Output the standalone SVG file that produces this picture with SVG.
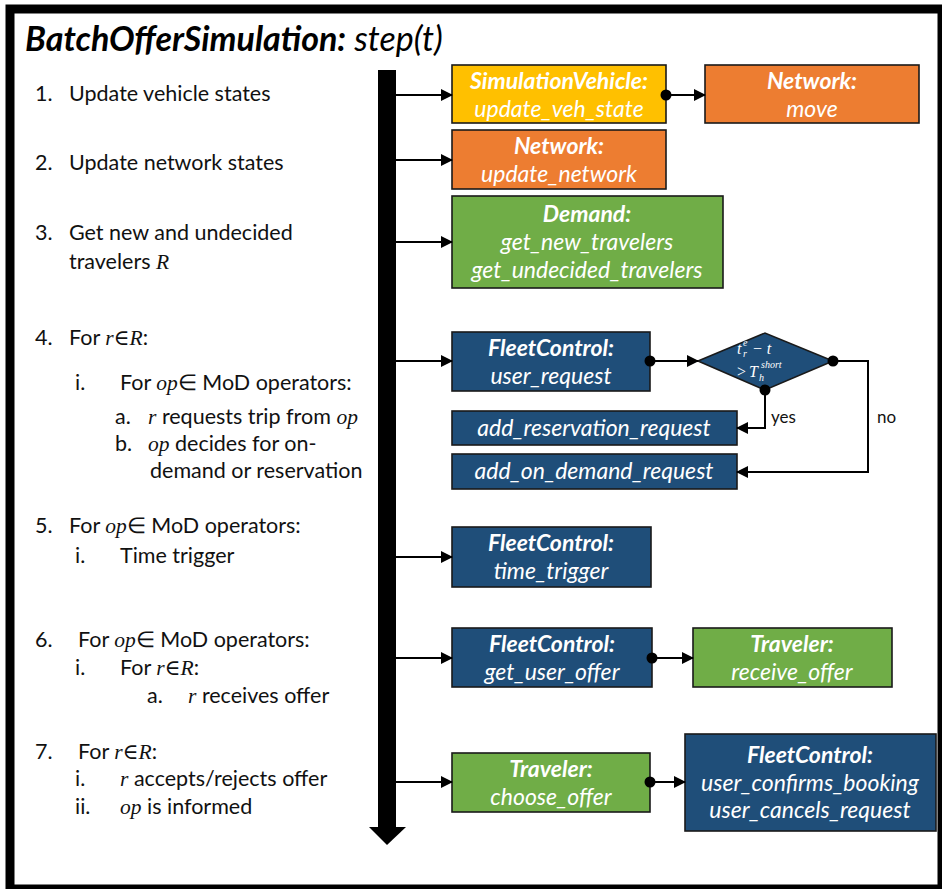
<svg xmlns="http://www.w3.org/2000/svg" width="942" height="889" viewBox="0 0 942 889">
<defs>
<marker id="ah" markerWidth="12" markerHeight="12" refX="11" refY="6" orient="auto" markerUnits="userSpaceOnUse">
<path d="M0,0 L12,6 L0,12 z" fill="#000"/>
</marker>
<marker id="dot" markerWidth="12" markerHeight="12" refX="6" refY="6" markerUnits="userSpaceOnUse">
<circle cx="6" cy="6" r="5.5" fill="#000"/>
</marker>
<style>
.t{font-family:Lato,"Liberation Sans",sans-serif;font-size:21.5px;fill:#111}
.m{font-family:"Liberation Serif","DejaVu Serif",serif;font-style:italic}
.bx{stroke:#1a1a1a;stroke-width:1.6}
.y{fill:#FFC000}.o{fill:#ED7D31}.g{fill:#70AD47}.b{fill:#1F4E79}
.h{font-family:Lato,"Liberation Sans",sans-serif;font-size:23px;font-weight:bold;font-style:italic;fill:#fff;text-anchor:middle}
.f{font-family:Lato,"Liberation Sans",sans-serif;font-size:23px;font-style:italic;fill:#fff;text-anchor:middle}
.c{stroke:#000;stroke-width:2;fill:none}
.ca{stroke:#000;stroke-width:2;fill:none;marker-end:url(#ah)}
.cd{stroke:#000;stroke-width:2;fill:none;marker-start:url(#dot);marker-end:url(#ah)}
.lbl{font-family:Lato,"Liberation Sans",sans-serif;font-size:17px;fill:#111}
.dm{font-family:"Liberation Serif","DejaVu Serif",serif;font-style:italic;font-size:16px;fill:#fff}
.ds{font-family:"Liberation Serif","DejaVu Serif",serif;font-style:italic;font-size:10px;fill:#fff}
</style>
</defs>
<rect x="0" y="0" width="942" height="889" fill="#fff"/>
<rect x="10" y="9" width="932" height="880" fill="none" stroke="#000" stroke-width="9"/>
<text x="25" y="51" font-family="Lato,'Liberation Sans',sans-serif" font-size="34" font-style="italic" fill="#000"><tspan font-weight="bold">BatchOfferSimulation:</tspan> step(t)</text>

<g id="timeline">
<rect x="378" y="70" width="18" height="758" fill="#000"/>
<polygon points="369,827 406,827 387,845" fill="#000"/>
</g>

<g id="steps">
<text class="t" x="35" y="101">1.</text><text class="t" x="69" y="101">Update vehicle states</text>
<text class="t" x="35" y="170">2.</text><text class="t" x="69" y="170">Update network states</text>
<text class="t" x="35" y="240">3.</text><text class="t" x="69" y="240">Get new and undecided</text>
<text class="t" x="69" y="269">travelers <tspan class="m">R</tspan></text>
<text class="t" x="35" y="345">4.</text><text class="t" x="69" y="345">For <tspan class="m">r</tspan><tspan class="m" font-style="normal">∈</tspan><tspan class="m">R</tspan>:</text>
<text class="t" x="75" y="390">i.</text><text class="t" x="120" y="390">For <tspan class="m">op</tspan>∈ MoD operators:</text>
<text class="t" x="115" y="424">a.</text><text class="t" x="148" y="424"><tspan class="m">r</tspan> requests trip from <tspan class="m">op</tspan></text>
<text class="t" x="115" y="451">b.</text><text class="t" x="148" y="451"><tspan class="m">op</tspan> decides for on-</text>
<text class="t" x="150" y="478">demand or reservation</text>
<text class="t" x="35" y="533">5.</text><text class="t" x="69" y="533">For <tspan class="m">op</tspan>∈ MoD operators:</text>
<text class="t" x="75" y="563">i.</text><text class="t" x="120" y="563">Time trigger</text>
<text class="t" x="35" y="647">6.</text><text class="t" x="78" y="647">For <tspan class="m">op</tspan>∈ MoD operators:</text>
<text class="t" x="75" y="675">i.</text><text class="t" x="120" y="675">For <tspan class="m">r</tspan><tspan class="m" font-style="normal">∈</tspan><tspan class="m">R</tspan>:</text>
<text class="t" x="147" y="703">a.</text><text class="t" x="188" y="703"><tspan class="m">r</tspan> receives offer</text>
<text class="t" x="35" y="759">7.</text><text class="t" x="78" y="759">For <tspan class="m">r</tspan><tspan class="m" font-style="normal">∈</tspan><tspan class="m">R</tspan>:</text>
<text class="t" x="75" y="786">i.</text><text class="t" x="120" y="786"><tspan class="m">r</tspan> accepts/rejects offer</text>
<text class="t" x="75" y="814">ii.</text><text class="t" x="120" y="814"><tspan class="m">op</tspan> is informed</text>
</g>

<g id="simvehicle">
<rect class="bx y" x="452" y="65" width="214" height="58"/>
<text class="h" x="559" y="89">SimulationVehicle:</text>
<text class="f" x="559" y="117">update_veh_state</text>
</g>
<g id="network-move">
<rect class="bx o" x="705" y="65" width="214" height="58"/>
<text class="h" x="812" y="89">Network:</text>
<text class="f" x="812" y="117">move</text>
</g>
<g id="network-update">
<rect class="bx o" x="452" y="130" width="214" height="59"/>
<text class="h" x="559" y="154">Network:</text>
<text class="f" x="559" y="182">update_network</text>
</g>
<g id="demand">
<rect class="bx g" x="452" y="196" width="271" height="92"/>
<text class="h" x="587" y="222">Demand:</text>
<text class="f" x="587" y="250">get_new_travelers</text>
<text class="f" x="587" y="278">get_undecided_travelers</text>
</g>
<g id="user-request">
<rect class="bx b" x="452" y="332" width="198" height="59"/>
<text class="h" x="551" y="356">FleetControl:</text>
<text class="f" x="551" y="384">user_request</text>
</g>
<g id="decision">
<polygon class="bx b" points="698,361 765,333 833,361 765,390"/>
<text class="dm" x="737" y="354">t</text>
<text class="ds" x="743" y="357">r</text>
<text class="ds" x="743" y="346">e</text>
<text class="dm" x="752" y="354">− t</text>
<text class="dm" x="736" y="377" font-style="normal">&gt;</text>
<text class="dm" x="749" y="377">T</text>
<text class="ds" x="759" y="381">h</text>
<text class="ds" x="761" y="368">short</text>
</g>
<g id="add-reservation">
<rect class="bx b" x="452" y="411" width="285" height="34"/>
<text class="f" x="594" y="436">add_reservation_request</text>
</g>
<g id="add-on-demand">
<rect class="bx b" x="452" y="454" width="285" height="35"/>
<text class="f" x="594" y="479">add_on_demand_request</text>
</g>
<g id="time-trigger">
<rect class="bx b" x="452" y="527" width="199" height="60"/>
<text class="h" x="551" y="551">FleetControl:</text>
<text class="f" x="551" y="579">time_trigger</text>
</g>
<g id="get-user-offer">
<rect class="bx b" x="452" y="628" width="200" height="59"/>
<text class="h" x="552" y="652">FleetControl:</text>
<text class="f" x="552" y="680">get_user_offer</text>
</g>
<g id="receive-offer">
<rect class="bx g" x="693" y="628" width="199" height="59"/>
<text class="h" x="792" y="652">Traveler:</text>
<text class="f" x="792" y="680">receive_offer</text>
</g>
<g id="choose-offer">
<rect class="bx g" x="452" y="753" width="198" height="59"/>
<text class="h" x="551" y="777">Traveler:</text>
<text class="f" x="551" y="805">choose_offer</text>
</g>
<g id="confirm">
<rect class="bx b" x="685" y="734" width="251" height="97"/>
<text class="h" x="810" y="763">FleetControl:</text>
<text class="f" x="810" y="791">user_confirms_booking</text>
<text class="f" x="810" y="818">user_cancels_request</text>
</g>

<g id="connectors">
<line class="ca" x1="396" y1="95" x2="452" y2="95"/>
<line class="ca" x1="396" y1="160" x2="452" y2="160"/>
<line class="ca" x1="396" y1="242" x2="452" y2="242"/>
<line class="ca" x1="396" y1="361" x2="452" y2="361"/>
<line class="ca" x1="396" y1="557" x2="452" y2="557"/>
<line class="ca" x1="396" y1="658" x2="452" y2="658"/>
<line class="ca" x1="396" y1="782" x2="452" y2="782"/>
<line class="cd" x1="666" y1="95" x2="705" y2="95"/>
<line class="cd" x1="650" y1="361" x2="698" y2="361"/>
<polyline class="cd" points="765,390 765,428 737,428"/>
<polyline class="cd" points="833,361 868,361 868,472 737,472"/>
<line class="cd" x1="652" y1="658" x2="693" y2="658"/>
<line class="cd" x1="650" y1="782" x2="685" y2="782"/>
<text class="lbl" x="771" y="423">yes</text>
<text class="lbl" x="877" y="423">no</text>
</g>
</svg>
